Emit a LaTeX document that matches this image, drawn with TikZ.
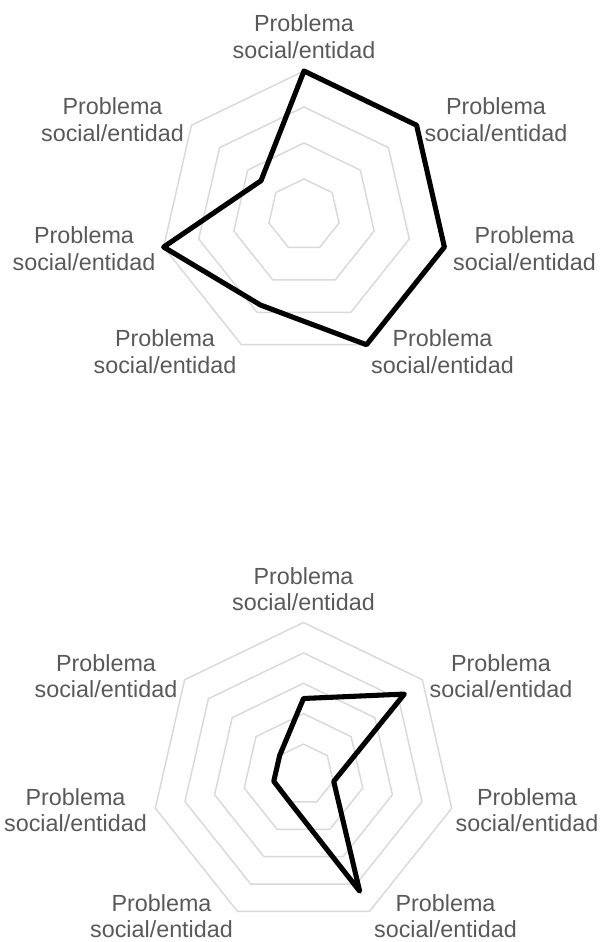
\documentclass[tikz,border=0pt]{standalone}
\usepackage{fontspec}
\setmainfont{Liberation Sans}
\definecolor{gris}{HTML}{D9D9D9}
\definecolor{texto}{HTML}{595959}
\begin{document}
\begin{tikzpicture}[x=0.75pt, y=0.75pt]
			\tikzset{rejilla/.style={draw=gris, line width=1.1pt, line join=round}, serie/.style={draw=black, line width=3.8pt, line join=round}, etiqueta/.style={text=texto, align=center, inner sep=0pt, font=\fontsize{17.5}{20}\selectfont}};
			\useasboundingbox (0,0) rectangle (601,942);

			% radar de arriba
			\begin{scope}[shift={(304,727)}]
				\foreach \r in {36,72,108,144}
					\draw[rejilla] (90:\r) \foreach \k in {1,...,6} { -- ({90-\k*360/7}:\r) } -- cycle;
				\coordinate (a0) at (90:144);
				\coordinate (a1) at (38.57:144);
				\coordinate (a2) at (-12.86:144);
				\coordinate (a3) at (-64.29:144);
				\coordinate (a4) at (-115.71:100);
				\coordinate (a5) at (-167.14:144);
				\coordinate (a6) at (141.43:55);
			\end{scope}
			\draw[serie] (a0) -- (a1) -- (a2) -- (a3) -- (a4) -- (a5) -- (a6) -- cycle;

			\node[etiqueta] (p0) at (304.0, 905) {Problema\\social/entidad};
			\node[etiqueta] (p1) at (496.0, 822) {Problema\\social/entidad};
			\node[etiqueta] (p2) at (524.5, 693) {Problema\\social/entidad};
			\node[etiqueta] (p3) at (442.5, 590) {Problema\\social/entidad};
			\node[etiqueta] (p4) at (165.0, 590) {Problema\\social/entidad};
			\node[etiqueta] (p5) at ( 84.0, 693) {Problema\\social/entidad};
			\node[etiqueta] (p6) at (112.5, 822) {Problema\\social/entidad};

			% radar de abajo
			\begin{scope}[shift={(303.5,167.5)}]
				\foreach \r in {30.4,60.8,91.2,121.6,152}
					\draw[rejilla] (90:\r) \foreach \k in {1,...,6} { -- ({90-\k*360/7}:\r) } -- cycle;
				\coordinate (b0) at (90:76);
				\coordinate (b1) at (38.57:129);
				\coordinate (b2) at (-12.86:31);
				\coordinate (b3) at (-64.29:129.5);
				\coordinate (b4) at (-115.71:31);
				\coordinate (b5) at (-167.14:30.5);
				\coordinate (b6) at (141.43:30.5);
			\end{scope}
			\draw[serie] (b0) -- (b1) -- (b2) -- (b3) -- (b4) -- (b5) -- (b6) -- cycle;

			\node[etiqueta] (q0) at (303.5, 353) {Problema\\social/entidad};
			\node[etiqueta] (q1) at (501.0, 266) {Problema\\social/entidad};
			\node[etiqueta] (q2) at (527.0, 132) {Problema\\social/entidad};
			\node[etiqueta] (q3) at (445.5,  26) {Problema\\social/entidad};
			\node[etiqueta] (q4) at (161.5,  26) {Problema\\social/entidad};
			\node[etiqueta] (q5) at ( 75.5, 132) {Problema\\social/entidad};
			\node[etiqueta] (q6) at (106.0, 266) {Problema\\social/entidad};

		\end{tikzpicture}
\end{document}
